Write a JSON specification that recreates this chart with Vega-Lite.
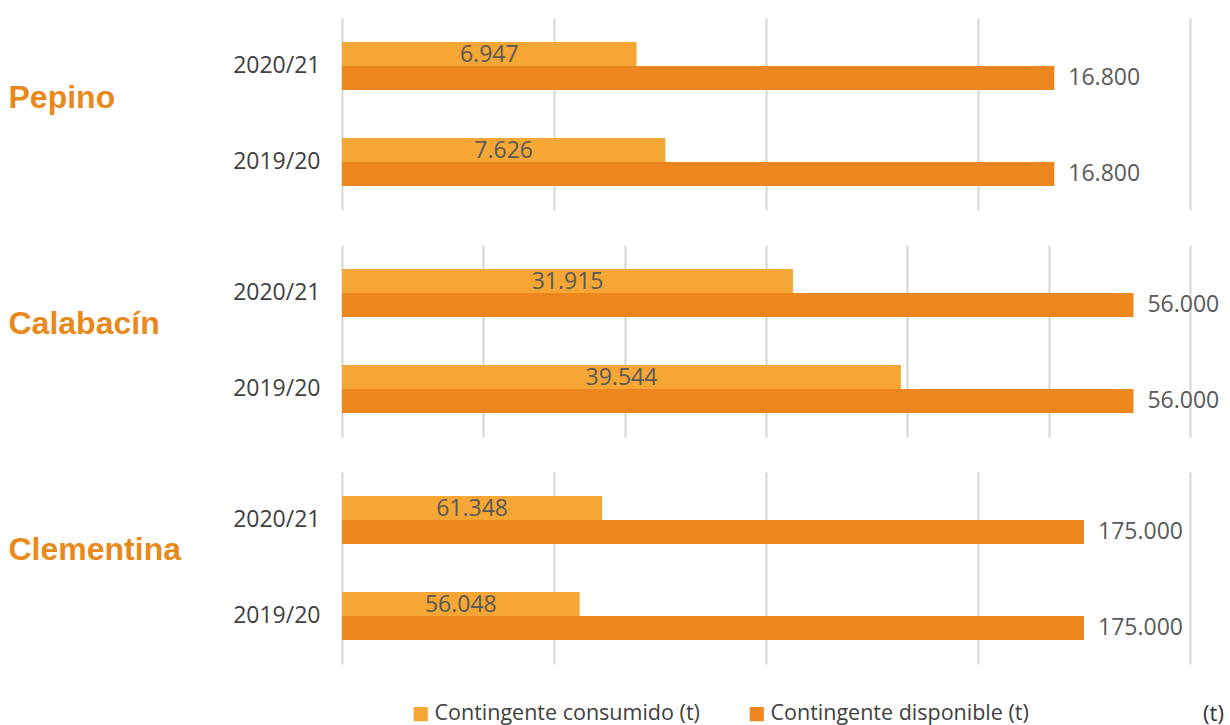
{
  "$schema": "https://vega.github.io/schema/vega-lite/v6.json",
  "padding": {"left": 8, "top": 18, "right": 0, "bottom": 0},
  "background": "white",
  "config": {
    "view": {"stroke": null},
    "font": "Open Sans",
    "locale": {"number": {"decimal": ",", "thousands": ".", "grouping": [3], "currency": ["", " €"]}},
    "legend": {"orient": "none", "legendX": 68, "legendY": 685, "direction": "horizontal", "title": null, "symbolType": "square", "symbolSize": 200, "symbolStrokeWidth": 0, "labelFontSize": 21.5, "labelColor": "#404040", "labelFont": "Open Sans", "columnPadding": 46, "labelOffset": 3, "labelLimit": 400}
  },
  "data": {"values": [
    {"producto": "Pepino", "campana": "2020/21", "serie": "Contingente consumido (t)", "valor": 6947},
    {"producto": "Pepino", "campana": "2020/21", "serie": "Contingente disponible (t)", "valor": 16800},
    {"producto": "Pepino", "campana": "2019/20", "serie": "Contingente consumido (t)", "valor": 7626},
    {"producto": "Pepino", "campana": "2019/20", "serie": "Contingente disponible (t)", "valor": 16800},
    {"producto": "Calabacín", "campana": "2020/21", "serie": "Contingente consumido (t)", "valor": 31915},
    {"producto": "Calabacín", "campana": "2020/21", "serie": "Contingente disponible (t)", "valor": 56000},
    {"producto": "Calabacín", "campana": "2019/20", "serie": "Contingente consumido (t)", "valor": 39544},
    {"producto": "Calabacín", "campana": "2019/20", "serie": "Contingente disponible (t)", "valor": 56000},
    {"producto": "Clementina", "campana": "2020/21", "serie": "Contingente consumido (t)", "valor": 61348},
    {"producto": "Clementina", "campana": "2020/21", "serie": "Contingente disponible (t)", "valor": 175000},
    {"producto": "Clementina", "campana": "2019/20", "serie": "Contingente consumido (t)", "valor": 56048},
    {"producto": "Clementina", "campana": "2019/20", "serie": "Contingente disponible (t)", "valor": 175000}
  ]},
  "spacing": 35,
  "resolve": {"scale": {"x": "independent", "y": "independent", "yOffset": "independent", "color": "shared"}},
  "vconcat": [
    {
      "width": 848, "height": 192,
      "transform": [{"filter": "datum.producto === 'Pepino'"}],
      "encoding": {
        "y": {"field": "campana", "type": "nominal", "sort": ["2020/21", "2019/20"], "scale": {"paddingInner": 0.5, "paddingOuter": 0.25},
          "axis": {"title": "Pepino", "titleAngle": 0, "titleAlign": "left", "titleBaseline": "middle", "titleX": -334, "titleY": 79, "titleFontSize": 32, "titleFont": "Liberation Sans", "titleFontWeight": "bold", "titleColor": "#E8891C", "domain": false, "ticks": false, "labelPadding": 22, "labelFontSize": 23, "labelColor": "#404040", "labelFont": "Open Sans"}},
        "yOffset": {"field": "serie", "type": "nominal", "sort": ["Contingente consumido (t)", "Contingente disponible (t)"], "scale": {"paddingInner": 0, "paddingOuter": 0}}
      },
      "resolve": {"scale": {"x": "independent"}},
      "layer": [
        {"mark": {"type": "bar"},
         "encoding": {
           "x": {"field": "valor", "type": "quantitative", "scale": {"domain": [0, 20000], "nice": false},
             "axis": {"title": null, "values": [0, 5000, 10000, 15000, 20000], "labels": false, "ticks": false, "domain": false, "grid": true, "gridColor": "#d4d4d4", "gridWidth": 2}},
           "color": {"field": "serie", "type": "nominal", "sort": ["Contingente consumido (t)", "Contingente disponible (t)"], "scale": {"range": ["#F5A634", "#EE861F"]}}
         }},
        {"transform": [{"filter": "datum.serie === 'Contingente consumido (t)'"}],
         "mark": {"type": "text", "align": "center", "baseline": "middle", "dy": 1, "fontSize": 23, "color": "#595959", "font": "Open Sans"},
         "encoding": {
           "x": {"field": "valor", "type": "quantitative", "scale": {"domain": [0, 40000], "nice": false}, "axis": null},
           "text": {"field": "valor", "type": "quantitative", "format": ",d"}
         }},
        {"transform": [{"filter": "datum.serie === 'Contingente disponible (t)'"}],
         "mark": {"type": "text", "align": "left", "baseline": "middle", "dx": 14, "fontSize": 23, "color": "#595959", "font": "Open Sans"},
         "encoding": {
           "x": {"field": "valor", "type": "quantitative", "scale": {"domain": [0, 20000], "nice": false}, "axis": null},
           "text": {"field": "valor", "type": "quantitative", "format": ",d"}
         }}
      ]
    },
    {
      "width": 848, "height": 192,
      "transform": [{"filter": "datum.producto === 'Calabacín'"}],
      "encoding": {
        "y": {"field": "campana", "type": "nominal", "sort": ["2020/21", "2019/20"], "scale": {"paddingInner": 0.5, "paddingOuter": 0.25},
          "axis": {"title": "Calabacín", "titleAngle": 0, "titleAlign": "left", "titleBaseline": "middle", "titleX": -334, "titleY": 78, "titleFontSize": 32, "titleFont": "Liberation Sans", "titleFontWeight": "bold", "titleColor": "#E8891C", "domain": false, "ticks": false, "labelPadding": 22, "labelFontSize": 23, "labelColor": "#404040", "labelFont": "Open Sans"}},
        "yOffset": {"field": "serie", "type": "nominal", "sort": ["Contingente consumido (t)", "Contingente disponible (t)"], "scale": {"paddingInner": 0, "paddingOuter": 0}}
      },
      "resolve": {"scale": {"x": "independent"}},
      "layer": [
        {"mark": {"type": "bar"},
         "encoding": {
           "x": {"field": "valor", "type": "quantitative", "scale": {"domain": [0, 60000], "nice": false},
             "axis": {"title": null, "values": [0, 10000, 20000, 30000, 40000, 50000, 60000], "labels": false, "ticks": false, "domain": false, "grid": true, "gridColor": "#d4d4d4", "gridWidth": 2}},
           "color": {"field": "serie", "type": "nominal", "sort": ["Contingente consumido (t)", "Contingente disponible (t)"], "scale": {"range": ["#F5A634", "#EE861F"]}}
         }},
        {"transform": [{"filter": "datum.serie === 'Contingente consumido (t)'"}],
         "mark": {"type": "text", "align": "center", "baseline": "middle", "dy": 1, "fontSize": 23, "color": "#595959", "font": "Open Sans"},
         "encoding": {
           "x": {"field": "valor", "type": "quantitative", "scale": {"domain": [0, 120000], "nice": false}, "axis": null},
           "text": {"field": "valor", "type": "quantitative", "format": ",d"}
         }},
        {"transform": [{"filter": "datum.serie === 'Contingente disponible (t)'"}],
         "mark": {"type": "text", "align": "left", "baseline": "middle", "dx": 14, "fontSize": 23, "color": "#595959", "font": "Open Sans"},
         "encoding": {
           "x": {"field": "valor", "type": "quantitative", "scale": {"domain": [0, 60000], "nice": false}, "axis": null},
           "text": {"field": "valor", "type": "quantitative", "format": ",d"}
         }}
      ]
    },
    {
      "width": 848, "height": 192,
      "transform": [{"filter": "datum.producto === 'Clementina'"}],
      "encoding": {
        "y": {"field": "campana", "type": "nominal", "sort": ["2020/21", "2019/20"], "scale": {"paddingInner": 0.5, "paddingOuter": 0.25},
          "axis": {"title": "Clementina", "titleAngle": 0, "titleAlign": "left", "titleBaseline": "middle", "titleX": -334, "titleY": 77, "titleFontSize": 32, "titleFont": "Liberation Sans", "titleFontWeight": "bold", "titleColor": "#E8891C", "domain": false, "ticks": false, "labelPadding": 22, "labelFontSize": 23, "labelColor": "#404040", "labelFont": "Open Sans"}},
        "yOffset": {"field": "serie", "type": "nominal", "sort": ["Contingente consumido (t)", "Contingente disponible (t)"], "scale": {"paddingInner": 0, "paddingOuter": 0}}
      },
      "resolve": {"scale": {"x": "independent"}},
      "layer": [
        {"mark": {"type": "bar"},
         "encoding": {
           "x": {"field": "valor", "type": "quantitative", "scale": {"domain": [0, 200000], "nice": false},
             "axis": {"title": "(t)", "titleX": 871, "titleY": 49, "titleAlign": "center", "titleBaseline": "middle", "titleFontSize": 22, "titleFontWeight": "normal", "titleColor": "#333333", "titleFont": "Open Sans", "values": [0, 50000, 100000, 150000, 200000], "labels": false, "ticks": false, "domain": false, "grid": true, "gridColor": "#d4d4d4", "gridWidth": 2}},
           "color": {"field": "serie", "type": "nominal", "sort": ["Contingente consumido (t)", "Contingente disponible (t)"], "scale": {"range": ["#F5A634", "#EE861F"]}}
         }},
        {"transform": [{"filter": "datum.serie === 'Contingente consumido (t)'"}],
         "mark": {"type": "text", "align": "center", "baseline": "middle", "dy": 1, "fontSize": 23, "color": "#595959", "font": "Open Sans"},
         "encoding": {
           "x": {"field": "valor", "type": "quantitative", "scale": {"domain": [0, 400000], "nice": false}, "axis": null},
           "text": {"field": "valor", "type": "quantitative", "format": ",d"}
         }},
        {"transform": [{"filter": "datum.serie === 'Contingente disponible (t)'"}],
         "mark": {"type": "text", "align": "left", "baseline": "middle", "dx": 14, "fontSize": 23, "color": "#595959", "font": "Open Sans"},
         "encoding": {
           "x": {"field": "valor", "type": "quantitative", "scale": {"domain": [0, 200000], "nice": false}, "axis": null},
           "text": {"field": "valor", "type": "quantitative", "format": ",d"}
         }}
      ]
    }
  ]
}
